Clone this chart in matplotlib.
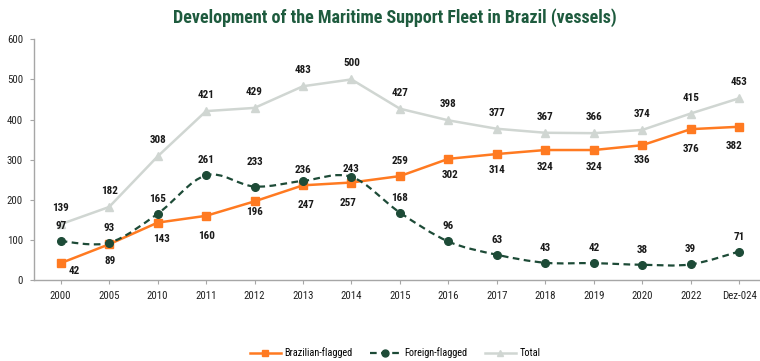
"""Maritime support fleet in Brazil, split by flag, 2000 to Dec-2024."""

import matplotlib

matplotlib.use("Agg")
import matplotlib.pyplot as plt
import numpy as np
from matplotlib.lines import Line2D
from matplotlib.patches import PathPatch
from matplotlib.path import Path

years = ["2000", "2005", "2010", "2011", "2012", "2013", "2014", "2015",
         "2016", "2017", "2018", "2019", "2020", "2022", "Dez-024"]
brazilian = [42, 89, 143, 160, 196, 236, 243, 259, 302, 314, 324, 324, 336, 376, 382]
foreign = [97, 93, 165, 261, 233, 247, 257, 168, 96, 63, 43, 42, 38, 39, 71]
total = [139, 182, 308, 421, 429, 483, 500, 427, 398, 377, 367, 366, 374, 415, 453]

# label offsets in pixels (dx, dy), up is positive
br_offsets = [(14, -8), (1, -17), (4, -16), (1, -20), (0, -11), (0, 15), (0, 14),
              (0, 15), (2, -16), (0, -16), (0, -17), (0, -17), (0, -15), (0, -20), (-5, -19)]
fo_offsets = [(0, 15), (0, 15), (0, 15), (0, 15), (0, 25), (3, -24), (-3, -26),
              (0, 15), (0, 15), (0, 15), (0, 15), (0, 15), (0, 15), (0, 15), (0, 15)]

ORANGE = "#FF7A21"
GREEN = "#1D4B37"
GREY = "#D0D6D2"
TITLE = "#1E5B3E"

plt.rcParams["font.family"] = ["Roboto Condensed", "Liberation Sans Narrow",
                               "Liberation Sans", "DejaVu Sans"]


def smooth_path(xs, ys):
    """Cubic Bezier through the points, Catmull-Rom style (like Excel's smoothed line)."""
    pts = np.column_stack([xs, ys]).astype(float)
    n = len(pts)
    verts = [pts[0]]
    codes = [Path.MOVETO]
    for i in range(n - 1):
        p0 = pts[i - 1] if i > 0 else pts[i]
        p1, p2 = pts[i], pts[i + 1]
        p3 = pts[i + 2] if i + 2 < n else pts[i + 1]
        c1 = p1 + (p2 - p0) / 6
        c2 = p2 - (p3 - p1) / 6
        verts += [c1, c2, p2]
        codes += [Path.CURVE4] * 3
    return Path(verts, codes)


fig = plt.figure(figsize=(7.6, 3.61), dpi=100)
ax = fig.add_axes([34 / 760, 1 - 280 / 361, 1 - 34 / 760, (280 - 39.3) / 361])

x = np.arange(len(years))

ax.plot(x, brazilian, color=ORANGE, lw=1.8, marker="s", ms=5.5, zorder=3)

ax.add_patch(PathPatch(smooth_path(x, foreign), fill=False, edgecolor=GREEN,
                       lw=1.6, linestyle=(0, (3, 2)), zorder=4))
ax.plot(x, foreign, linestyle="none", marker="o", ms=5.5, color=GREEN, zorder=4)

ax.plot(x, total, color=GREY, lw=1.8, marker="^", ms=5.5, zorder=2)

label_kw = dict(textcoords="offset pixels", ha="center", va="center",
                fontsize=8, fontweight="bold", color="#1a1a1a")
for xi, v in zip(x, total):
    ax.annotate(str(v), (xi, v), xytext=(0, 16), **label_kw)
for xi, v, off in zip(x, foreign, fo_offsets):
    ax.annotate(str(v), (xi, v), xytext=off, **label_kw)
for xi, v, off in zip(x, brazilian, br_offsets):
    ax.annotate(str(v), (xi, v), xytext=off, **label_kw)

ax.set_xlim(-0.55, 14.43)
ax.set_ylim(0, 600)
ax.set_yticks(range(0, 601, 100))
ax.set_xticks(x)
ax.set_xticklabels(years)
for side in ("top", "right"):
    ax.spines[side].set_visible(False)
for side in ("left", "bottom"):
    ax.spines[side].set_color("#A6A6A6")
    ax.spines[side].set_linewidth(1.0)
ax.tick_params(axis="both", colors="#A6A6A6", labelcolor="#222222", labelsize=7.8,
               length=3, width=0.8)
ax.tick_params(axis="x", pad=5)
ax.tick_params(axis="y", pad=5)

fig.text(0.52, 1 - 18 / 361, "Development of the Maritime Support Fleet in Brazil (vessels)",
         ha="center", va="center", fontsize=13, fontweight="bold", color=TITLE)

handles = [
    Line2D([], [], color=ORANGE, lw=1.8, marker="s", ms=5),
    Line2D([], [], color=GREEN, lw=1.6, linestyle=(0, (3, 2)), marker="o", ms=5),
    Line2D([], [], color=GREY, lw=1.8, marker="^", ms=5),
]
fig.legend(handles, ["Brazilian-flagged", "Foreign-flagged", "Total"],
           loc="center", bbox_to_anchor=(0.52, 1 - 353 / 361), ncol=3, frameon=False,
           fontsize=7.4, handlelength=3.0, handletextpad=0.35, columnspacing=1.7)

fig.savefig("out.png", dpi=100)
